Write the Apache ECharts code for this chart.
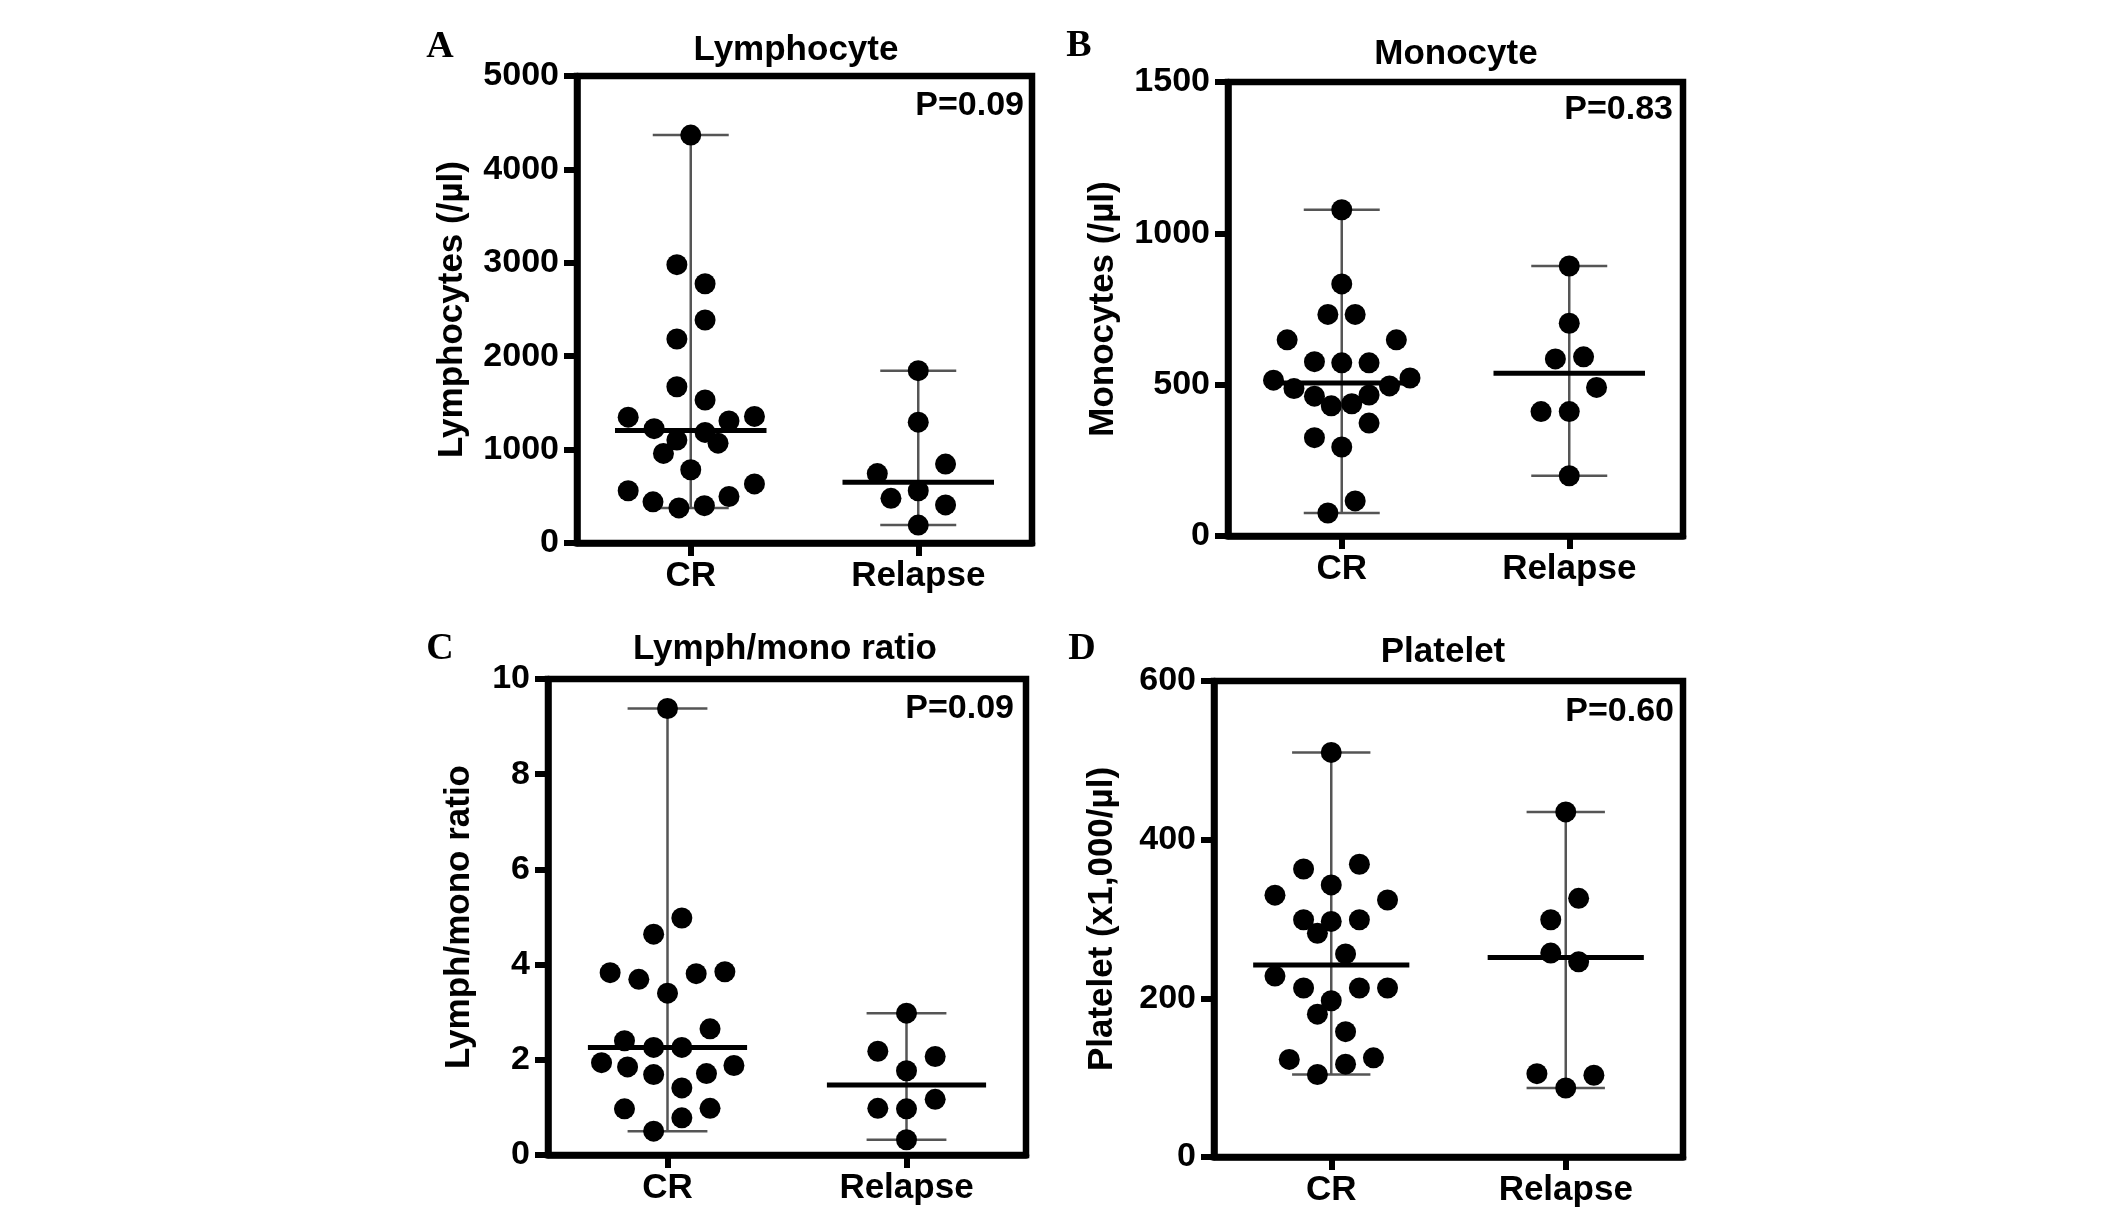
<!DOCTYPE html>
<html><head><meta charset="utf-8">
<script src="https://cdn.jsdelivr.net/npm/echarts/dist/echarts.min.js"></script>
<style>html,body{margin:0;padding:0;background:#fff}#c{width:2126px;height:1211px}</style>
</head><body><div id="c"></div>
<script>
// ---------- data ----------
const groups = ['CR', 'Relapse'];
const panelLetters = ['A', 'B', 'C', 'D'];
const panelTitles = ['Lymphocyte', 'Monocyte', 'Lymph/mono ratio', 'Platelet'];
const yNames = ['Lymphocytes (/µl)', 'Monocytes (/µl)', 'Lymph/mono ratio', 'Platelet (x1,000/µl)'];
const pValues = ['P=0.09', 'P=0.83', 'P=0.09', 'P=0.60'];
const yMax = [5000, 1500, 10, 600];
const yStep = [1000, 500, 2, 200];

// values and horizontal scatter offsets (in category widths)
const lymphCR  = [4367, 2980, 2776, 2388, 2184, 1673, 1531, 1347, 1355, 1306, 1224, 1184, 1102, 1069, 959, 784, 559, 633, 441, 376, 400, 498];
const lymphCRx = [0, -0.061, 0.063, 0.063, -0.061, -0.061, 0.063, -0.275, 0.28, 0.168, -0.161, 0.063, -0.061, 0.12, -0.12, 0, -0.275, 0.28, -0.166, -0.052, 0.06, 0.168];
const lymphRel  = [1845, 1294, 743, 845, 559, 478, 408, 192];
const lymphRelx = [0, 0, -0.18, 0.12, 0, -0.12, 0.12, 0];

const monoCR  = [1078, 833, 732, 732, 648, 648, 576, 572, 572, 515, 522, 487, 496, 462, 466, 430, 437, 373, 325, 294, 116, 76];
const monoCRx = [0, 0, -0.061, 0.059, -0.24, 0.24, -0.12, 0, 0.12, -0.30, 0.30, -0.21, 0.21, -0.12, 0.12, -0.046, 0.044, 0.12, -0.12, 0, 0.059, -0.061];
const monoRel  = [892, 703, 585, 592, 491, 411, 411, 199];
const monoRelx = [0, 0, -0.061, 0.063, 0.12, -0.124, 0, 0];

const ratioCR  = [9.38, 4.98, 4.64, 3.83, 3.69, 3.81, 3.85, 3.40, 2.65, 2.40, 2.26, 2.26, 1.94, 1.85, 1.88, 1.69, 1.71, 1.41, 0.97, 0.98, 0.78, 0.50];
const ratioCRx = [0, 0.06, -0.058, -0.24, -0.12, 0.12, 0.24, 0, 0.178, -0.18, -0.058, 0.06, -0.276, -0.167, 0.278, -0.058, 0.163, 0.06, -0.18, 0.178, 0.06, -0.058];
const ratioRel  = [2.98, 2.18, 2.07, 1.77, 1.17, 0.98, 0.97, 0.32];
const ratioRelx = [0, -0.12, 0.12, 0, 0.12, -0.12, 0, 0];

const pltCR  = [510, 363, 369, 343, 330, 324, 299, 297, 299, 282, 256, 228, 213, 213, 213, 197, 180, 158, 123, 125, 117, 104];
const pltCRx = [0, -0.118, 0.12, 0, -0.24, 0.24, -0.118, 0, 0.12, -0.059, 0.061, -0.24, -0.118, 0.12, 0.24, 0, -0.059, 0.061, -0.179, 0.18, 0.061, -0.059];
const pltRel  = [435, 326, 299, 257, 246, 105, 103, 87];
const pltRelx = [0, 0.055, -0.064, -0.064, 0.055, -0.123, 0.12, 0];

const panels = [
  [[lymphCR, lymphCRx], [lymphRel, lymphRelx]],
  [[monoCR, monoCRx], [monoRel, monoRelx]],
  [[ratioCR, ratioCRx], [ratioRel, ratioRelx]],
  [[pltCR, pltCRx], [pltRel, pltRelx]]
];

// ---------- layout ----------
const gridBoxes = [
  {left: 577, top: 76, width: 455, height: 467},
  {left: 1228, top: 82, width: 455, height: 454},
  {left: 548, top: 679, width: 478, height: 476},
  {left: 1214, top: 681, width: 469, height: 476}
];
const nameGaps = [107, 107, 71, 94];
const titlePos = [[796, 50], [1456, 54], [785, 649], [1443, 652]];
const letterPos = [[440, 47], [1079, 46], [440, 649], [1082, 649]];
const pPos = [[1024, 106], [1673, 110], [1014, 709], [1674, 712]];

const SANS = '"Liberation Sans", Arial, Helvetica, sans-serif';
const CAP = 0.167, MED = 0.333;

function median(a) {
  const s = a.slice().sort((x, y) => x - y);
  const n = s.length;
  return n % 2 ? s[(n - 1) / 2] : (s[n / 2 - 1] + s[n / 2]) / 2;
}

function renderSummary(params, api) {
  const x = api.value(0), lo = api.value(1), md = api.value(2), hi = api.value(3);
  const c = (a, b) => api.coord([a, b]);
  const gray = {stroke: '#555', lineWidth: 2.5, fill: null};
  const mk = (p1, p2, style) => ({type: 'line', shape: {x1: p1[0], y1: p1[1], x2: p2[0], y2: p2[1]}, style});
  return {type: 'group', children: [
    mk(c(x, lo), c(x, hi), gray),
    mk(c(x - CAP, hi), c(x + CAP, hi), gray),
    mk(c(x - CAP, lo), c(x + CAP, lo), gray),
    mk(c(x - MED, md), c(x + MED, md), {stroke: '#000', lineWidth: 5, fill: null})
  ]};
}

const grid = [], xAxis = [], yAxis = [], series = [], graphic = [];
panels.forEach((pan, i) => {
  grid.push(Object.assign({show: true, borderColor: '#000', borderWidth: 6.5, backgroundColor: 'transparent'}, gridBoxes[i]));
  xAxis.push({
    gridIndex: i, type: 'value', min: 0.5, max: 2.5, interval: 0.5,
    splitLine: {show: false},
    axisLine: {show: true, lineStyle: {color: '#000', width: 6.5}},
    axisTick: {show: true, customValues: [1, 2], length: 13, lineStyle: {color: '#000', width: 6}},
    axisLabel: {show: true, customValues: [1, 2], margin: 16, color: '#000',
      fontFamily: SANS, fontWeight: 'bold', fontSize: 35,
      formatter: v => groups[Math.round(v) - 1] || ''}
  });
  yAxis.push({
    gridIndex: i, type: 'value', min: 0, max: yMax[i], interval: yStep[i],
    name: yNames[i], nameLocation: 'middle', nameGap: nameGaps[i], nameRotate: 90,
    nameTextStyle: {color: '#000', fontFamily: SANS, fontWeight: 'bold', fontSize: 35},
    splitLine: {show: false},
    axisLine: {show: true, lineStyle: {color: '#000', width: 6.5}},
    axisTick: {show: true, length: 13, lineStyle: {color: '#000', width: 6}},
    axisLabel: {margin: 18, color: '#000', fontFamily: SANS, fontWeight: 'bold', fontSize: 34,
      formatter: v => String(v)}
  });
  const summary = pan.map((g, k) => [k + 1, Math.min(...g[0]), median(g[0]), Math.max(...g[0])]);
  series.push({
    type: 'custom', xAxisIndex: i, yAxisIndex: i, renderItem: renderSummary,
    dimensions: ['x', 'lo', 'md', 'hi'], encode: {x: 0, y: [1, 2, 3]},
    data: summary, z: 2, silent: true
  });
  pan.forEach((g, k) => {
    series.push({
      type: 'scatter', xAxisIndex: i, yAxisIndex: i, symbol: 'circle', symbolSize: 21,
      itemStyle: {color: '#000', opacity: 1}, z: 3,
      data: g[0].map((v, j) => [k + 1 + g[1][j], v])
    });
  });
  graphic.push({type: 'text', x: titlePos[i][0], y: titlePos[i][1],
    style: {text: panelTitles[i], align: 'center', verticalAlign: 'middle', fill: '#000',
      font: 'bold 35px ' + SANS}});
  graphic.push({type: 'text', x: letterPos[i][0], y: letterPos[i][1],
    style: {text: panelLetters[i], align: 'center', verticalAlign: 'middle', fill: '#000',
      font: 'bold 38px "Liberation Serif", "Times New Roman", serif'}});
  graphic.push({type: 'text', x: pPos[i][0], y: pPos[i][1],
    style: {text: pValues[i], align: 'right', verticalAlign: 'middle', fill: '#000',
      font: 'bold 34px ' + SANS}});
});

const chart = echarts.init(document.getElementById('c'), null, {renderer: 'canvas'});
chart.setOption({animation: false, backgroundColor: '#fff', grid, xAxis, yAxis, series, graphic});
</script></body></html>
